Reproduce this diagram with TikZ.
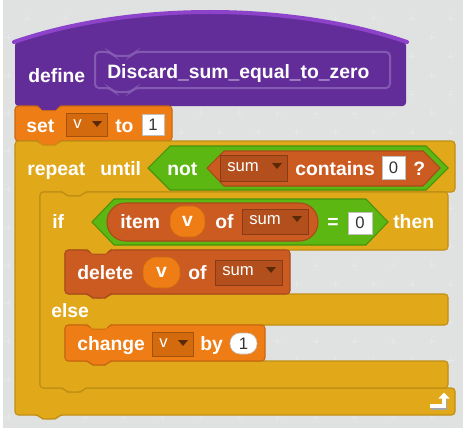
\documentclass[tikz,border=0pt]{standalone}
\usepackage{fontspec}
\setmainfont{Liberation Sans}
\definecolor{canvas}{HTML}{E0E2E1}
\definecolor{canvasplus}{HTML}{E6E8E7}
\definecolor{procfill}{HTML}{632D99}
\definecolor{procedge}{HTML}{8C42C9}
\definecolor{procline}{HTML}{8459B1}
\definecolor{ctrlfill}{HTML}{E1A91A}
\definecolor{ctrledge}{HTML}{BF8E14}
\definecolor{varfill}{HTML}{EE7D16}
\definecolor{varedge}{HTML}{C9680F}
\definecolor{varmenu}{HTML}{D46A0E}
\definecolor{listfill}{HTML}{CC5B22}
\definecolor{listedge}{HTML}{A94A1B}
\definecolor{listmenu}{HTML}{B24F1C}
\definecolor{opfill}{HTML}{5CB712}
\definecolor{opedge}{HTML}{46930B}
\definecolor{menutri}{HTML}{5A2A06}
\tikzset{
  btext/.style={text=white, font=\fontsize{14.5}{17}\selectfont\bfseries, inner sep=0pt},
  mtext/.style={text=white, font=\fontsize{12.5}{15}\selectfont, inner sep=0pt},
  ntext/.style={text=black!80, font=\fontsize{12.5}{15}\selectfont, inner sep=0pt},
  blockpath/.style={rounded corners=2.5, line width=0.8},
}
\begin{document}
\begin{tikzpicture}[x=0.75pt,y=0.75pt,yscale=-1,xscale=1]
        % canvas
        \fill[canvas] (0,0) rectangle (463,428);
        \fill[white] (0,0) rectangle (2.5,428);
        \useasboundingbox (0,0) rectangle (463,428);
        \foreach \i in {0,...,11} {
            \foreach \j in {0,...,11} {
                \draw[canvasplus, line width=0.7] ({27+38.5*\i-3},{18+38*\j}) -- ({27+38.5*\i+3},{18+38*\j});
                \draw[canvasplus, line width=0.7] ({27+38.5*\i},{18+38*\j-3}) -- ({27+38.5*\i},{18+38*\j+3});
                \draw[canvasplus, line width=0.7] ({8+38.5*\i-3},{37+38*\j}) -- ({8+38.5*\i+3},{37+38*\j});
                \draw[canvasplus, line width=0.7] ({8+38.5*\i},{37+38*\j-3}) -- ({8+38.5*\i},{37+38*\j+3});
            }
        }
        % define hat
        \fill[procfill, rounded corners=2.5] (15,106) -- (15,42) .. controls (130,2) and (290,2) .. (406,42) -- (406,106) -- (60,106) -- (56,110) -- (42,110) -- (38,106) -- cycle ;
        \draw[procedge, line width=3, line cap=round] (14,42) .. controls (130,2) and (290,2) .. (407,42) ;
        \draw[procline, line width=1.5, rounded corners=3] (95,52) -- (110,52) -- (114,56) -- (131,56) -- (135,52) -- (390,52) -- (390,88) -- (135,88) -- (131,92) -- (114,92) -- (110,88) -- (95,88) -- cycle ;
        \node[btext, anchor=base west] (define) at (28,82) {define};
        \node[btext, anchor=base west] (procname) at (107,78) {Discard\_sum\_equal\_to\_zero};
        % set v to 1
        \draw[blockpath, fill=varfill, draw=varedge] (15,106) -- (38,106) -- (42,110) -- (56,110) -- (60,106) -- (172,106) -- (172,141) -- (60,141) -- (56,145) -- (42,145) -- (38,141) -- (15,141) -- cycle ;
        \fill[procfill] (38,105) -- (42,110) -- (56,110) -- (60,105) -- cycle ;
        \node[btext, anchor=base west] (set) at (26,132) {set};
        \draw[fill=varmenu, draw=varedge!80!black] (66,113) rectangle (107,136);
        \node[mtext, anchor=base west] (setvar) at (73,128) {v};
        \fill[menutri] (92,121) -- (102,121) -- (97,127) -- cycle ;
        \node[btext, anchor=base west] (to) at (115,132) {to};
        \draw[fill=white, draw=black!25] (142,114) rectangle (164,135);
        \node[ntext] (setval) at (153,124.5) {1};
        % repeat until
        \draw[blockpath, fill=ctrlfill, draw=ctrledge] (15,141) -- (38,141) -- (42,145) -- (56,145) -- (60,141) -- (455,141) -- (455,192) -- (85,192) -- (81,196) -- (67,196) -- (63,192) -- (40,192) -- (40,388) -- (63,388) -- (67,392) -- (81,392) -- (85,388) -- (455,388) -- (455,415) -- (60,415) -- (56,419) -- (42,419) -- (38,415) -- (15,415) -- cycle ;
        \fill[varfill] (38.5,140) -- (42,144.5) -- (56,144.5) -- (59.5,140) -- cycle ;
        \node[btext, anchor=base west] (repeat) at (27,175) {repeat};
        \node[btext, anchor=base west] (until) at (100,175) {until};
        \draw[fill=opfill, draw=opedge, line width=0.8] (148,168) -- (170,146) -- (426,146) -- (448,168) -- (426,190) -- (170,190) -- cycle ;
        \node[btext, anchor=base west] (not) at (167,175) {not};
        \draw[fill=listfill, draw=listedge, line width=0.8] (207,168) -- (224,151) -- (423,151) -- (440,168) -- (423,186) -- (224,186) -- cycle ;
        \draw[fill=listmenu, draw=listedge!80!black] (220,155) rectangle (287,181);
        \node[mtext] (listname) at (243,167) {sum};
        \fill[menutri] (272,163) -- (282,163) -- (277,169) -- cycle ;
        \node[btext, anchor=base west] (contains) at (295,175) {contains};
        \draw[fill=white, draw=black!25] (382,156) rectangle (405,179);
        \node[ntext] (findval) at (393.5,167.5) {0};
        \node[btext, anchor=base west] (ask) at (413,175) {?};
        % if then else
        \draw[blockpath, fill=ctrlfill, draw=ctrledge] (40,192) -- (63,192) -- (67,196) -- (81,196) -- (85,192) -- (448,192) -- (448,250) -- (110,250) -- (106,254) -- (92,254) -- (88,250) -- (65,250) -- (65,294) -- (88,294) -- (92,298) -- (106,298) -- (110,294) -- (448,294) -- (448,325) -- (110,325) -- (106,329) -- (92,329) -- (88,325) -- (65,325) -- (65,361) -- (88,361) -- (92,365) -- (106,365) -- (110,361) -- (448,361) -- (448,388) -- (85,388) -- (81,392) -- (67,392) -- (63,388) -- (40,388) -- cycle ;
        \node[btext, anchor=base west] (if) at (52,228) {if};
        \draw[fill=opfill, draw=opedge, line width=0.8] (92,222) -- (114,199) -- (366,199) -- (388,222) -- (366,245) -- (114,245) -- cycle ;
        \draw[fill=listfill, draw=listedge, line width=0.8, rounded corners=14] (107,203) rectangle (318,241);
        \node[btext, anchor=base west] (item) at (120,228) {item};
        \draw[fill=varfill, draw=varedge, rounded corners=10] (170,206) rectangle (205,237);
        \node[btext] (itemidx) at (187.5,221) {v};
        \node[btext, anchor=base west] (itemof) at (215,228) {of};
        \draw[fill=listmenu, draw=listedge!80!black] (242,209) rectangle (308,234);
        \node[mtext] (itemlist) at (265,220.5) {sum};
        \fill[menutri] (292,216) -- (302,216) -- (297,222) -- cycle ;
        \node[btext, anchor=base west] (equals) at (327,228) {=};
        \draw[fill=white, draw=black!25] (348,212) rectangle (372,234);
        \node[ntext] (eqval) at (360,223) {0};
        \node[btext, anchor=base west] (then) at (393,228) {then};
        % delete v of sum
        \draw[blockpath, fill=listfill, draw=listedge] (65,250) -- (88,250) -- (92,254) -- (106,254) -- (110,250) -- (290,250) -- (290,294) -- (110,294) -- (106,298) -- (92,298) -- (88,294) -- (65,294) -- cycle ;
        \fill[ctrlfill] (88.5,249) -- (92,253.5) -- (106,253.5) -- (109.5,249) -- cycle ;
        \node[btext, anchor=base west] (delete) at (77,279) {delete};
        \draw[fill=varfill, draw=varedge, rounded corners=10] (143,257) rectangle (180,288);
        \node[btext] (delidx) at (161.5,272) {v};
        \node[btext, anchor=base west] (delof) at (188,279) {of};
        \draw[fill=listmenu, draw=listedge!80!black] (215,260) rectangle (282,285);
        \node[mtext] (dellist) at (238,271.5) {sum};
        \fill[menutri] (266,267) -- (276,267) -- (271,273) -- cycle ;
        \node[btext, anchor=base west] (else) at (51,317) {else};
        % change v by 1
        \draw[blockpath, fill=varfill, draw=varedge] (65,325) -- (88,325) -- (92,329) -- (106,329) -- (110,325) -- (265,325) -- (265,361) -- (110,361) -- (106,365) -- (92,365) -- (88,361) -- (65,361) -- cycle ;
        \fill[ctrlfill] (88.5,324) -- (92,328.5) -- (106,328.5) -- (109.5,324) -- cycle ;
        \node[btext, anchor=base west] (change) at (77,350) {change};
        \draw[fill=varmenu, draw=varedge!80!black] (152,332) rectangle (193,356);
        \node[mtext, anchor=base west] (changevar) at (159,347) {v};
        \fill[menutri] (178,340) -- (188,340) -- (183,346) -- cycle ;
        \node[btext, anchor=base west] (by) at (200,350) {by};
        \draw[fill=white, draw=black!25, rounded corners=7.5] (230,333) rectangle (257,354);
        \node[ntext] (changeval) at (243.5,343.5) {1};
        % loop arrow
        \draw[black!35, line width=3] (431,407.5) -- (445,407.5) -- (445,399) ;
        \draw[white, line width=3] (430,406) -- (444,406) -- (444,397.5) ;
        \fill[white] (438.5,398.5) -- (449.5,398.5) -- (444,392.5) -- cycle ;
\end{tikzpicture}
\end{document}
